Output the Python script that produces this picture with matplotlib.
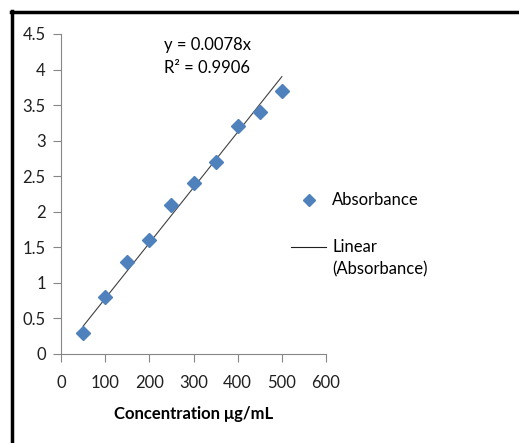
import matplotlib
matplotlib.use("Agg")
import matplotlib.pyplot as plt
import numpy as np
from matplotlib.lines import Line2D
from matplotlib.legend_handler import HandlerLine2D

plt.rcParams['font.family'] = ['Lato', 'DejaVu Sans']

conc = [50, 100, 150, 200, 250, 300, 350, 400, 450, 500]
absorbance = [0.3, 0.8, 1.3, 1.6, 2.1, 2.4, 2.7, 3.2, 3.4, 3.7]
x_ticks = [0, 100, 200, 300, 400, 500, 600]
y_ticks = [0, 0.5, 1, 1.5, 2, 2.5, 3, 3.5, 4, 4.5]
slope = 0.0078
r2 = 0.9906

blue = '#4F81BD'
grey = '#868686'


class TopLineHandler(HandlerLine2D):
    # put the trend line next to the first line of a two-line label
    def create_artists(self, legend, orig_handle, xdescent, ydescent,
                       width, height, fontsize, trans):
        arts = super().create_artists(legend, orig_handle, xdescent, ydescent,
                                      width, height, fontsize, trans)
        for a in arts:
            a.set_ydata(np.asarray(a.get_ydata()) + 9)
        return arts


fig = plt.figure(figsize=(5.19, 4.43), dpi=100)
ax = fig.add_axes([61 / 519, (443 - 354) / 443, 265 / 519, 320 / 443])

xs = np.array([conc[0], conc[-1]])
ax.plot(xs, slope * xs, color='#404040', lw=0.8, zorder=1)
ax.plot(conc, absorbance, 'D', color=blue, ms=7.6, mec=blue, zorder=2)

ax.set_xlim(0, 600)
ax.set_ylim(0, 4.5)
ax.set_xticks(x_ticks)
ax.set_yticks(y_ticks)
ax.set_yticklabels(['0', '0.5', '1', '1.5', '2', '2.5', '3', '3.5', '4', '4.5'])
for s in ['top', 'right']:
    ax.spines[s].set_visible(False)
for s in ['left', 'bottom']:
    ax.spines[s].set_color(grey)
    ax.spines[s].set_linewidth(0.8)
ax.tick_params(axis='both', direction='out', length=6, width=0.8, color=grey,
               labelsize=12, labelcolor='#202020')
ax.tick_params(axis='x', pad=9)
ax.tick_params(axis='y', pad=5)
ax.set_xlabel('Concentration μg/mL', fontsize=12, fontweight='bold', labelpad=11)

ax.text(0.39, 0.965, 'y = 0.0078x', transform=ax.transAxes, fontsize=12,
        va='center', ha='left')
ax.text(0.39, 0.893, 'R² = 0.9906', transform=ax.transAxes, fontsize=12,
        va='center', ha='left')

handles = [Line2D([], [], marker='D', ls='none', color=blue, ms=6),
           Line2D([], [], color='#202020', lw=0.8)]
leg = fig.legend(handles, ['Absorbance', 'Linear\n(Absorbance)'],
                 loc='upper left', bbox_to_anchor=(283 / 519, 1 - 184 / 443),
                 frameon=False, fontsize=12, handlelength=2.1, handletextpad=0.35,
                 labelspacing=1.85, borderpad=0,
                 handler_map={handles[1]: TopLineHandler()})
for t in leg.get_texts():
    t.set_linespacing(1.5)

# outer frame (top and left edges visible)
fig.add_artist(Line2D([11 / 519, 1.0], [1 - 11.5 / 443, 1 - 11.5 / 443],
                      transform=fig.transFigure, color='black', lw=2.5))
fig.add_artist(Line2D([11.5 / 519, 11.5 / 519], [0, 1 - 10.5 / 443],
                      transform=fig.transFigure, color='black', lw=2.5))

fig.savefig('out.png', dpi=100)
